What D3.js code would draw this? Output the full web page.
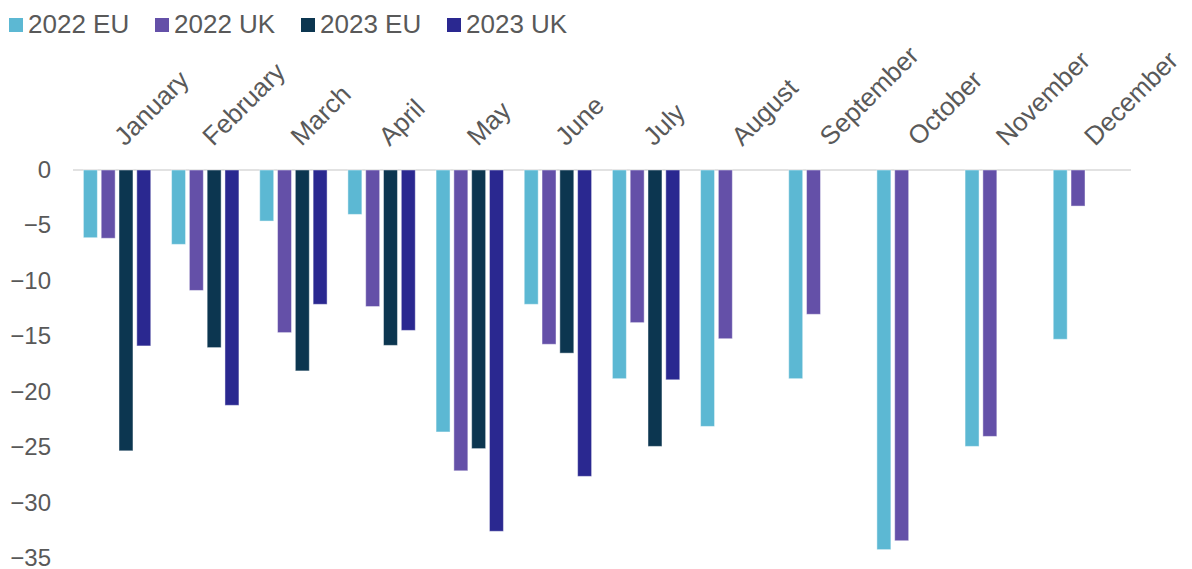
<!DOCTYPE html>
<meta charset="utf-8">
<script src="https://d3js.org/d3.v7.min.js"></script>
<style>
  body { margin: 0; background: #fff; }
  text { font-family: "Liberation Sans", Arial, sans-serif; fill: #595959; }
</style>
<div id="my_dataviz"></div>
<script>

// data
const months = ["January", "February", "March", "April", "May", "June",
  "July", "August", "September", "October", "November", "December"];
const seriesNames = ["2022 EU", "2022 UK", "2023 EU", "2023 UK"];
const seriesColors = ["#5cb8d3", "#6450a8", "#0c3650", "#2a2890"];
const eu2022 = [-6.1, -6.7, -4.6, -4.0, -23.6, -12.1, -18.8, -23.1, -18.8, -34.2, -24.9, -15.25];
const uk2022 = [-6.15, -10.85, -14.65, -12.3, -27.1, -15.7, -13.75, -15.2, -13.0, -33.4, -24.0, -3.25];
const eu2023 = [-25.3, -16.0, -18.1, -15.8, -25.1, -16.5, -24.9, null, null, null, null, null];
const uk2023 = [-15.85, -21.2, -12.1, -14.45, -32.55, -27.6, -18.9, null, null, null, null, null];
const yTicks = [0, -5, -10, -15, -20, -25, -30, -35];

const seriesValues = [eu2022, uk2022, eu2023, uk2023];

const W = 1192, H = 569;
const margin = {top: 170, left: 73, right: 61, bottom: 10.5};

const svg = d3.select("#my_dataviz")
  .append("svg")
    .attr("width", W)
    .attr("height", H);

// scales
const x = d3.scaleBand()
  .domain(months)
  .range([margin.left, W - margin.right])
  .padding(0);

const xSub = d3.scaleBand()
  .domain(seriesNames)
  .range([10.4, x.bandwidth() - 10.4])
  .paddingInner(0.215);

const y = d3.scaleLinear()
  .domain([-35, 0])
  .range([H - margin.bottom, margin.top]);

// y axis labels (no line, no ticks)
const yAxis = svg.append("g")
  .attr("transform", `translate(${margin.left}, 0)`)
  .call(d3.axisLeft(y).tickValues(yTicks).tickSize(0).tickPadding(22));
yAxis.select(".domain").remove();
yAxis.selectAll("text")
  .style("font-size", "24px")
  .attr("fill", "#595959")
  .attr("dy", "0.3em")
  .attr("font-family", "Liberation Sans, Arial, sans-serif");

// zero line
svg.append("line")
  .attr("x1", margin.left)
  .attr("x2", W - margin.right)
  .attr("y1", y(0))
  .attr("y2", y(0))
  .attr("stroke", "#d9d9d9")
  .attr("stroke-width", 1.5);

// bars
const rows = [];
months.forEach(function(m, i) {
  seriesNames.forEach(function(s, j) {
    if (seriesValues[j][i] != null) rows.push({month: m, key: s, color: seriesColors[j], value: seriesValues[j][i]});
  });
});

svg.append("g")
  .selectAll("rect")
  .data(rows)
  .join("rect")
    .attr("x", function(d) { return x(d.month) + xSub(d.key); })
    .attr("y", y(0))
    .attr("width", xSub.bandwidth())
    .attr("height", function(d) { return y(d.value) - y(0); })
    .attr("fill", function(d) { return d.color; })
    .attr("stroke", "#ffffff")
    .attr("stroke-opacity", 0.45)
    .attr("stroke-width", 1);

// month labels above the plot, rotated
svg.append("g")
  .selectAll("text")
  .data(months)
  .join("text")
    .attr("transform", function(d) { return `translate(${x(d) + x.bandwidth() / 2 + 8}, 147) rotate(-45)`; })
    .attr("text-anchor", "start")
    .style("font-size", "26px")
    .text(function(d) { return d; });

// legend
const legendX = [9, 155, 301, 447];
const legend = svg.append("g")
  .selectAll("g")
  .data(seriesNames)
  .join("g")
    .attr("transform", function(d, i) { return `translate(${legendX[i]}, 0)`; });
legend.append("rect")
  .attr("x", 0)
  .attr("y", 18)
  .attr("width", 14)
  .attr("height", 14)
  .attr("fill", function(d, i) { return seriesColors[i]; });
legend.append("text")
  .attr("x", 19)
  .attr("y", 33)
  .style("font-size", "26px")
  .text(function(d) { return d; });

</script>
